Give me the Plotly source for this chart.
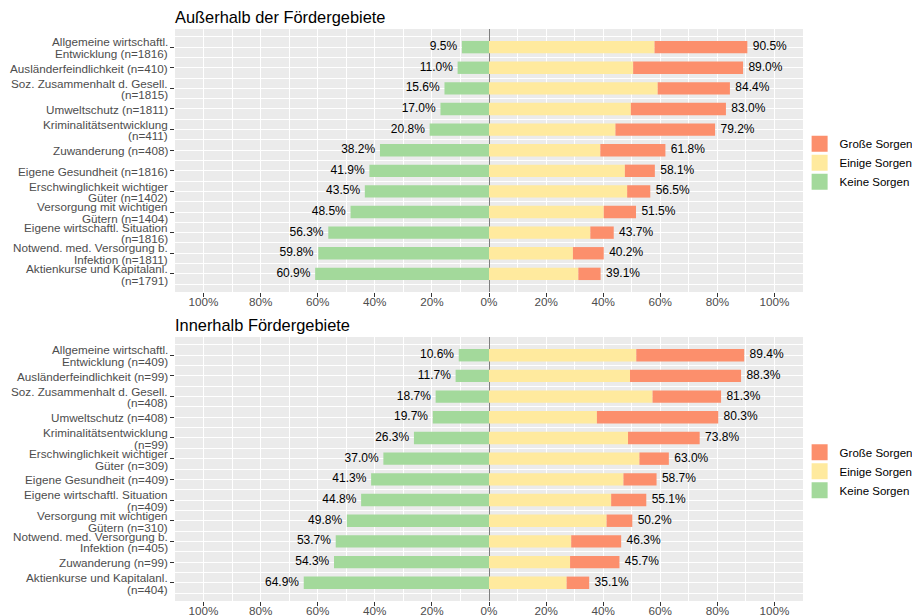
import plotly.graph_objects as go

# ---------------- data ----------------
labels_top = [
    "Allgemeine wirtschaftl.<br>Entwicklung (n=1816)",
    "Ausländerfeindlichkeit (n=410)",
    "Soz. Zusammenhalt d. Gesell.<br>(n=1815)",
    "Umweltschutz (n=1811)",
    "Kriminalitätsentwicklung<br>(n=411)",
    "Zuwanderung (n=408)",
    "Eigene Gesundheit (n=1816)",
    "Erschwinglichkeit wichtiger<br>Güter (n=1402)",
    "Versorgung mit wichtigen<br>Gütern (n=1404)",
    "Eigene wirtschaftl. Situation<br>(n=1816)",
    "Notwend. med. Versorgung b.<br>Infektion (n=1811)",
    "Aktienkurse und Kapitalanl.<br>(n=1791)",
]
keine_top = [9.5, 11.0, 15.6, 17.0, 20.8, 38.2, 41.9, 43.5, 48.5, 56.3, 59.8, 60.9]
einige_top = [58.0, 50.5, 59.1, 49.7, 44.3, 39.0, 47.6, 48.4, 40.2, 35.5, 29.4, 31.3]
grosse_top = [32.5, 38.5, 25.3, 33.3, 34.9, 22.8, 10.5, 8.1, 11.3, 8.2, 10.8, 7.8]

labels_bot = [
    "Allgemeine wirtschaftl.<br>Entwicklung (n=409)",
    "Ausländerfeindlichkeit (n=99)",
    "Soz. Zusammenhalt d. Gesell.<br>(n=408)",
    "Umweltschutz (n=408)",
    "Kriminalitätsentwicklung<br>(n=99)",
    "Erschwinglichkeit wichtiger<br>Güter (n=309)",
    "Eigene Gesundheit (n=409)",
    "Eigene wirtschaftl. Situation<br>(n=409)",
    "Versorgung mit wichtigen<br>Gütern (n=310)",
    "Notwend. med. Versorgung b.<br>Infektion (n=405)",
    "Zuwanderung (n=99)",
    "Aktienkurse und Kapitalanl.<br>(n=404)",
]
keine_bot = [10.6, 11.7, 18.7, 19.7, 26.3, 37.0, 41.3, 44.8, 49.8, 53.7, 54.3, 64.9]
einige_bot = [51.6, 49.4, 57.3, 37.8, 48.7, 52.7, 47.1, 42.8, 41.2, 28.8, 28.4, 27.2]
grosse_bot = [37.8, 38.9, 24.0, 42.5, 25.1, 10.3, 11.6, 12.3, 9.0, 17.5, 17.3, 7.9]

x_tickvals = [-100, -80, -60, -40, -20, 0, 20, 40, 60, 80, 100]
x_ticktext = ["100%", "80%", "60%", "40%", "20%", "0%", "20%", "40%", "60%", "80%", "100%"]

titles = ["Außerhalb der Fördergebiete", "Innerhalb Fördergebiete"]
legend_names = ["Große Sorgen", "Einige Sorgen", "Keine Sorgen"]

# ---------------- style ----------------
C_GROSSE = "#FC8F6C"
C_EINIGE = "#FFEA9E"
C_KEINE = "#A3D99B"
FONT = "Liberation Sans, Arial, sans-serif"
AXIS_GREY = "#4D4D4D"
LINE_H = 11.7

fig = go.Figure()

panels = [
    (labels_top, keine_top, einige_top, grosse_top, "x", "y", "legend"),
    (labels_bot, keine_bot, einige_bot, grosse_bot, "x2", "y2", "legend2"),
]

for labels, keine, einige, grosse, xa, ya, leg in panels:
    pos = list(range(len(labels)))
    fig.add_trace(go.Bar(y=pos, x=[-v for v in keine], orientation="h", name="Keine Sorgen",
                         marker=dict(color=C_KEINE, line=dict(width=0)), xaxis=xa, yaxis=ya,
                         showlegend=False, hoverinfo="skip"))
    fig.add_trace(go.Bar(y=pos, x=einige, orientation="h", name="Einige Sorgen",
                         marker=dict(color=C_EINIGE, line=dict(width=0)), xaxis=xa, yaxis=ya,
                         showlegend=False, hoverinfo="skip"))
    fig.add_trace(go.Bar(y=pos, x=grosse, orientation="h", name="Große Sorgen",
                         marker=dict(color=C_GROSSE, line=dict(width=0)), xaxis=xa, yaxis=ya,
                         showlegend=False, hoverinfo="skip"))
    totals = [round(a + b, 1) for a, b in zip(einige, grosse)]
    fig.add_trace(go.Scatter(y=pos, x=[-v for v in keine], mode="markers+text",
                             marker=dict(size=6, opacity=0),
                             text=[f"{v:.1f}%" for v in keine], textposition="middle left",
                             textfont=dict(size=12, color="black", family=FONT),
                             xaxis=xa, yaxis=ya, showlegend=False, hoverinfo="skip"))
    fig.add_trace(go.Scatter(y=pos, x=totals, mode="markers+text",
                             marker=dict(size=7, opacity=0),
                             text=[f"{v:.1f}%" for v in totals], textposition="middle right",
                             textfont=dict(size=12, color="black", family=FONT),
                             xaxis=xa, yaxis=ya, showlegend=False, hoverinfo="skip"))
    # legend keys (legend-only entries with larger square swatches)
    for name, col in zip(legend_names, [C_GROSSE, C_EINIGE, C_KEINE]):
        fig.add_trace(go.Scatter(x=[None], y=[None], mode="markers", name=name,
                                 marker=dict(symbol="square", size=16, color=col,
                                             line=dict(width=0)),
                                 xaxis=xa, yaxis=ya, legend=leg, hoverinfo="skip"))
    # category labels, drawn line by line for a tight line height
    for p, lab in zip(pos, labels):
        lines = lab.split("<br>")
        n = len(lines)
        for i, line in enumerate(lines):
            fig.add_annotation(text=line, xref="paper", yref=ya, x=0, y=p,
                               xanchor="right", yanchor="middle", showarrow=False,
                               xshift=-5, yshift=((n - 1) / 2 - i) * LINE_H - 0.5,
                               font=dict(size=11.7, color=AXIS_GREY, family=FONT))

top_dom = [0.5402, 1.0]
bot_dom = [0.0, 0.4615]

def xaxis_cfg(anchor):
    return dict(
        range=[-110, 110], anchor=anchor, domain=[0, 1],
        tickmode="array", tickvals=x_tickvals, ticktext=x_ticktext,
        showgrid=True, gridcolor="white", gridwidth=1.1,
        minor=dict(tickmode="linear", tick0=-110, dtick=20, showgrid=True,
                   gridcolor="white", gridwidth=0.5, ticks=""),
        zeroline=True, zerolinecolor="#7F7F7F", zerolinewidth=1.1,
        ticks="outside", ticklen=4, tickwidth=1, tickcolor="#333333",
        ticklabelstandoff=-5,
        tickfont=dict(size=11.7, color=AXIS_GREY, family=FONT),
        showline=False, fixedrange=True, automargin=False,
    )

def yaxis_cfg(anchor, dom, labels):
    return dict(
        range=[len(labels) - 1 + 0.88, -0.88], anchor=anchor, domain=dom,
        tickmode="array", tickvals=list(range(len(labels))), showticklabels=False,
        showgrid=True, gridcolor="white", gridwidth=1.1,
        minor=dict(tickmode="linear", tick0=0.5, dtick=1, showgrid=True,
                   gridcolor="white", gridwidth=0.5, ticks=""),
        zeroline=False,
        ticks="outside", ticklen=4, tickwidth=1, tickcolor="#333333",
        showline=False, fixedrange=True, automargin=False,
    )

legend_common = dict(
    xref="container", x=0.868, xanchor="left", yanchor="middle", traceorder="normal",
    bgcolor="rgba(0,0,0,0)", font=dict(size=11.5, color="black", family=FONT),
    title=dict(text=""), itemclick=False, itemdoubleclick=False,
    tracegroupgap=0, borderwidth=0,
)

# page body has an 8px margin: figure is sized/offset so the plot lands where the reference has it
fig.update_layout(
    width=912, height=608,
    margin=dict(l=167, r=117, t=21, b=15, autoexpand=False),
    paper_bgcolor="white", plot_bgcolor="#EBEBEB",
    barmode="relative", bargap=0.4,
    font=dict(family=FONT, size=11.7, color="black"),
    xaxis=xaxis_cfg("y"), yaxis=yaxis_cfg("x", top_dom, labels_top),
    xaxis2=xaxis_cfg("y2"), yaxis2=yaxis_cfg("x2", bot_dom, labels_bot),
    legend=dict(y=0.766, yref="paper", **legend_common),
    legend2=dict(y=0.227, yref="paper", **legend_common),
    showlegend=True,
)

for title, dom in zip(titles, [top_dom, bot_dom]):
    fig.add_annotation(text=title, xref="paper", yref="paper", x=0, y=dom[1],
                       xanchor="left", yanchor="bottom", yshift=1, xshift=-2, showarrow=False,
                       font=dict(size=16.4, color="black", family=FONT))

fig.write_html("out.html")
